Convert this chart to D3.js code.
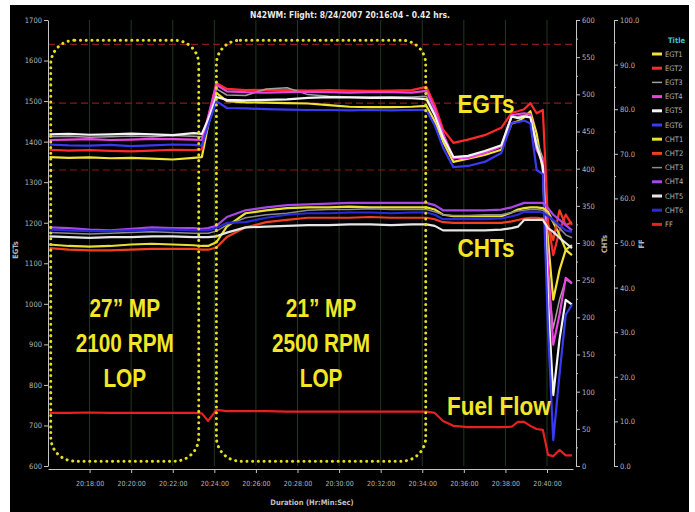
<!DOCTYPE html>
<html>
<head>
<meta charset="utf-8">
<script src="https://cdnjs.cloudflare.com/ajax/libs/d3/7.8.5/d3.min.js"></script>
<style>
  body { margin: 0; background: #fff; }
  svg { display: block; }
</style>
</head>
<body>
<svg id="chart" width="695" height="512"></svg>
<script>
// sample times (Hr:Min:Sec)
var times = ["20:16:04","20:17:00","20:18:00","20:19:00","20:20:00","20:21:00","20:22:00","20:23:00","20:23:24",
  "20:23:42","20:24:06","20:24:36","20:25:30","20:26:30","20:27:30","20:28:30","20:29:30","20:30:30","20:31:30",
  "20:32:30","20:33:30","20:34:12","20:34:36","20:35:00","20:35:30","20:36:12","20:37:00","20:37:48","20:38:18",
  "20:38:36","20:38:54","20:39:12","20:39:30","20:39:48","20:40:03","20:40:18","20:40:36","20:40:54","20:41:12"];

// EGTs (deg F, left axis)
var egt1 = [1362,1360,1361,1359,1360,1358,1356,1360,1362, 1440,1520,1500,1497,1496,1495,1494,1490,1486,1485,1485,1486,1488, 1450,1400,1350,1358,1367,1380, 1445,1450,1460,1475,1420,1330, 1157,1010,1083,1133,1120];
var egt2 = [1380,1378,1379,1377,1376,1378,1380,1379,1381, 1460,1545,1530,1527,1528,1527,1526,1527,1526,1525,1526,1527,1535, 1490,1430,1397,1405,1416,1434, 1471,1475,1480,1495,1470,1478, 1200,1120,1180,1220,1195];
var egt3 = [1412,1413,1411,1412,1414,1412,1415,1413,1412, 1450,1530,1515,1514,1530,1533,1516,1512,1510,1510,1511,1510,1512, 1470,1415,1358,1362,1375,1390, 1460,1462,1465,1462,1400,1360, 1060,940,1010,1060,1050];
var egt4 = [1404,1405,1406,1404,1405,1407,1406,1405,1404, 1460,1540,1524,1522,1521,1522,1523,1522,1521,1522,1522,1521,1525, 1480,1420,1360,1360,1372,1388, 1465,1468,1470,1468,1380,1350, 1096,899,973,1064,1051];
var egt5 = [1418,1419,1417,1418,1420,1418,1416,1421,1419, 1455,1510,1503,1502,1503,1504,1508,1510,1509,1508,1508,1507,1505, 1465,1410,1362,1365,1377,1391, 1462,1458,1462,1460,1390,1340, 1010,775,911,1010,998];
var egt6 = [1393,1391,1390,1392,1389,1391,1393,1392,1390, 1440,1500,1483,1482,1480,1479,1478,1478,1477,1478,1477,1478,1478, 1440,1385,1337,1340,1350,1372, 1446,1448,1452,1445,1330,1320, 935,664,825,973,998];

// CHTs (deg F, first right axis)
var cht1 = [298,296,295,296,298,299,298,297,296, 296,301,322,340,344,347,348,348,349,348,348,348,348, 345,338,336,336,336,336, 341,345,347,348,348,347, 342,328,311,291,297];
var cht2 = [293,291,290,290,291,292,292,292,291, 291,294,308,321,328,331,334,334,334,335,334,334,334, 332,328,327,327,327,327, 329,331,333,334,334,333, 324,304,344,324,328];
var cht3 = [314,313,312,313,314,315,314,313,313, 313,316,324,334,338,340,344,345,345,346,345,345,345, 342,338,337,337,338,338, 341,343,344,345,345,344, 338,328,320,311,307];
var cht4 = [321,320,318,317,319,321,320,320,319, 320,323,335,344,348,351,352,353,354,354,354,354,354, 351,344,344,344,344,345, 348,351,354,354,354,354, 347,338,331,324,317];
var cht5 = [309,308,307,308,308,309,309,308,308, 308,309,314,321,322,323,324,324,325,325,324,325,325, 323,317,317,317,317,318, 320,322,331,331,331,331, 320,315,307,300,293];
var cht6 = [318,317,316,316,317,318,318,317,317, 317,320,327,328,334,338,340,340,341,341,340,341,341, 338,332,332,332,332,333, 336,338,342,342,342,341, 336,331,324,317,315];

// fuel flow (gph, second right axis)
var ff = [11.9,11.9,12.0,11.9,11.9,11.9,11.9,11.9,11.8, 10.1,12.6,12.3,12.3,12.3,12.2,12.2,12.2,12.2,12.2,12.2,12.2,12.2, 11.9,10.1,9.0,8.7,8.7,8.7, 8.8,9.9,9.9,9.0,8.3,8.1, 2.5,2.2,3.6,2.4,2.4];

var seriesNames = ["EGT1","EGT2","EGT3","EGT4","EGT5","EGT6","CHT1","CHT2","CHT3","CHT4","CHT5","CHT6","FF"];
var seriesColors = ["#f2e233","#ff2a2a","#a0a0a0","#e845e0","#f4f4f4","#3a3af0",
                    "#e8e030","#f0401e","#8c8c8c","#a848e8","#e6e6e6","#2a2ad8","#e82020"];

var timeTicks = ["20:18:00","20:20:00","20:22:00","20:24:00","20:26:00","20:28:00","20:30:00",
                 "20:32:00","20:34:00","20:36:00","20:38:00","20:40:00"];
var egtTicks = [600,700,800,900,1000,1100,1200,1300,1400,1500,1600,1700];
var chtTicks = [0,50,100,150,200,250,300,350,400,450,500,550,600];
var ffTicks = [0,10,20,30,40,50,60,70,80,90,100];

// red alarm lines (EGT scale)
var alarmLines = [1640, 1495, 1330];

// test segments (dotted boxes)
var phaseStart = ["20:16:08", "20:24:06"];
var phaseEnd = ["20:23:15", "20:34:10"];
var phaseText = [["27\u201D MP", "2100 RPM", "LOP"], ["21\u201D MP", "2500 RPM", "LOP"]];
var boxTop = 1650, boxBottom = 612;

var parseTime = d3.timeParse("%H:%M:%S");
var fmtTime = d3.timeFormat("%H:%M:%S");

var plotLeft = 48, plotRight = 573, plotTop = 20, plotBottom = 466;

var svg = d3.select("#chart");

var x = d3.scaleTime()
    .domain([parseTime("20:16:00"), parseTime("20:41:15")])
    .range([plotLeft, plotRight]);
var yEgt = d3.scaleLinear().domain([600, 1700]).range([plotBottom, plotTop]);
var yCht = d3.scaleLinear().domain([0, 600]).range([plotBottom, plotTop]);
var yFf = d3.scaleLinear().domain([0, 100]).range([plotBottom, plotTop]);

// black panel
svg.append("rect")
    .attr("x", 10).attr("y", 5)
    .attr("width", 679).attr("height", 507)
    .style("fill", "#000");

// vertical grid
svg.append("g").selectAll("line")
    .data(timeTicks)
    .enter()
    .append("line")
    .attr("x1", function(d) { return x(parseTime(d)); })
    .attr("x2", function(d) { return x(parseTime(d)); })
    .attr("y1", plotTop)
    .attr("y2", plotBottom)
    .attr("stroke", "#22381f")
    .attr("stroke-width", 1);

// alarm lines
svg.append("g").selectAll("line")
    .data(alarmLines)
    .enter()
    .append("line")
    .attr("x1", plotLeft)
    .attr("x2", plotRight)
    .attr("y1", function(d) { return yEgt(d); })
    .attr("y2", function(d) { return yEgt(d); })
    .attr("stroke", "#8a1818")
    .attr("stroke-width", 1.2)
    .attr("stroke-dasharray", "7,4");

// build the series
var allValues = [egt1, egt2, egt3, egt4, egt5, egt6, cht1, cht2, cht3, cht4, cht5, cht6, ff];
var series = allValues.map(function(vals, i) {
    var scale = i < 6 ? yEgt : (i < 12 ? yCht : yFf);
    return {
        name: seriesNames[i],
        color: seriesColors[i],
        scale: scale,
        points: vals.map(function(v, j) { return { t: parseTime(times[j]), v: v }; })
    };
});

var plot = svg.append("g");
series.forEach(function(s) {
    var line = d3.line()
        .x(function(d) { return x(d.t); })
        .y(function(d) { return s.scale(d.v); });
    plot.append("path")
        .datum(s.points)
        .attr("d", line)
        .attr("fill", "none")
        .attr("stroke", s.color)
        .attr("stroke-width", (s.name == "EGT3" || s.name == "CHT3") ? 1.5 : 2.2)
        .attr("stroke-linejoin", "round");
});

// dotted boxes round the two test segments
svg.append("g").selectAll("rect")
    .data(phaseStart)
    .enter()
    .append("rect")
    .attr("x", function(d) { return x(parseTime(d)); })
    .attr("y", yEgt(boxTop))
    .attr("width", function(d, i) { return x(parseTime(phaseEnd[i])) - x(parseTime(d)); })
    .attr("height", yEgt(boxBottom) - yEgt(boxTop))
    .attr("rx", 24)
    .attr("fill", "none")
    .attr("stroke", "#e6e01c")
    .attr("stroke-width", 3)
    .attr("stroke-linecap", "round")
    .attr("stroke-dasharray", "0.1,5.6");

// big yellow labels
var labelFont = "'Liberation Sans', Arial, sans-serif";
phaseStart.forEach(function(d, i) {
    var cx = (x(parseTime(d)) + x(parseTime(phaseEnd[i]))) / 2;
    phaseText[i].forEach(function(txt, k) {
        svg.append("text")
            .attr("transform", "translate(" + cx + "," + (317 + k * 35) + ") scale(0.8,1)")
            .attr("text-anchor", "middle")
            .style("font-family", labelFont)
            .style("font-weight", "bold")
            .style("font-size", "26px")
            .style("fill", "#f2e626")
            .text(txt);
    });
});

var notes = [
    { text: "EGTs", t: "20:37:04", y: 113 },
    { text: "CHTs", t: "20:37:04", y: 257 },
    { text: "Fuel Flow", t: "20:37:41", y: 415 }
];
notes.forEach(function(n) {
    svg.append("text")
        .attr("transform", "translate(" + x(parseTime(n.t)) + "," + n.y + ") scale(0.9,1)")
        .attr("text-anchor", "middle")
        .style("font-family", labelFont)
        .style("font-weight", "bold")
        .style("font-size", "25px")
        .style("fill", "#f2e626")
        .text(n.text);
});

// axes
function styleAxis(g, size) {
    g.selectAll("path, line").attr("stroke", "#c4c4c4");
    g.selectAll("text")
        .attr("fill", "#b4b4b4")
        .style("font-family", "'DejaVu Sans Condensed', 'DejaVu Sans', sans-serif")
        .style("font-size", size + "px");
}

var gLeft = svg.append("g")
    .attr("transform", "translate(" + plotLeft + ",0)")
    .call(d3.axisLeft(yEgt).tickValues(egtTicks).tickFormat(d3.format("d"))
        .tickSize(4).tickSizeOuter(0).tickPadding(2));
styleAxis(gLeft, 7.5);

var gX = svg.append("g")
    .attr("transform", "translate(0," + (plotBottom + 3) + ")")
    .call(d3.axisBottom(x)
        .tickValues(timeTicks.map(parseTime))
        .tickFormat(fmtTime)
        .tickSize(4).tickSizeOuter(0).tickPadding(8));
styleAxis(gX, 7);

var chtX = 576, ffX = 614;
svg.append("g")
    .attr("transform", "translate(" + chtX + ",0)")
    .call(d3.axisRight(yCht).tickValues(d3.range(25, 600, 50)).tickSize(2).tickFormat("").tickSizeOuter(0))
    .call(styleAxis, 7);
var gCht = svg.append("g")
    .attr("transform", "translate(" + chtX + ",0)")
    .call(d3.axisRight(yCht).tickValues(chtTicks).tickSize(4).tickSizeOuter(0).tickPadding(2));
styleAxis(gCht, 7.5);

svg.append("g")
    .attr("transform", "translate(" + ffX + ",0)")
    .call(d3.axisRight(yFf).tickValues(d3.range(5, 100, 10)).tickSize(2).tickFormat("").tickSizeOuter(0))
    .call(styleAxis, 7);
var gFf = svg.append("g")
    .attr("transform", "translate(" + ffX + ",0)")
    .call(d3.axisRight(yFf).tickValues(ffTicks).tickFormat(d3.format(".1f")).tickSize(4).tickSizeOuter(0).tickPadding(2));
styleAxis(gFf, 7.5);

// axis titles
var smallFont = "'DejaVu Sans Condensed', 'DejaVu Sans', sans-serif";
svg.append("text")
    .attr("transform", "translate(18,250) rotate(-90)")
    .attr("text-anchor", "middle")
    .style("font-family", smallFont).style("font-size", "7.5px").style("font-weight", "bold")
    .style("fill", "#b4b4b4")
    .text("EGTs");
svg.append("text")
    .attr("transform", "translate(607,244) rotate(-90)")
    .attr("text-anchor", "middle")
    .style("font-family", smallFont).style("font-size", "7.5px").style("font-weight", "bold")
    .style("fill", "#b4b4b4")
    .text("CHTs");
svg.append("text")
    .attr("transform", "translate(644,244) rotate(-90)")
    .attr("text-anchor", "middle")
    .style("font-family", smallFont).style("font-size", "7.5px").style("font-weight", "bold")
    .style("fill", "#b4b4b4")
    .text("FF");
svg.append("text")
    .attr("x", 312).attr("y", 505)
    .attr("text-anchor", "middle")
    .style("font-family", smallFont).style("font-size", "7.5px").style("font-weight", "bold")
    .style("fill", "#c0c0c0")
    .text("Duration (Hr:Min:Sec)");

// title
svg.append("text")
    .attr("x", 350).attr("y", 18)
    .attr("text-anchor", "middle")
    .style("font-family", smallFont).style("font-size", "8.5px").style("font-weight", "bold")
    .style("fill", "#e8e8e8")
    .text("N42WM:  Flight: 8/24/2007 20:16:04 - 0.42 hrs.");

// legend
svg.append("text")
    .attr("x", 668).attr("y", 43)
    .style("font-family", smallFont).style("font-size", "7.5px").style("font-weight", "bold")
    .style("fill", "#3cc8d8")
    .text("Title");

var legend = svg.selectAll(".legend")
    .data(series)
    .enter()
    .append("g")
    .attr("class", "legend")
    .attr("transform", function(d, i) { return "translate(0," + (54 + i * 14.2) + ")"; });

legend.append("line")
    .attr("x1", 652).attr("x2", 662)
    .attr("y1", 0).attr("y2", 0)
    .attr("stroke", function(d) { return d.color; })
    .attr("stroke-width", function(d) { return (d.name == "EGT3" || d.name == "CHT3") ? 1.5 : 3; });

legend.append("text")
    .attr("x", 665).attr("y", 0)
    .attr("dy", ".35em")
    .style("font-family", smallFont).style("font-size", "7.5px")
    .style("fill", "#b4b4b4")
    .text(function(d) { return d.name; });
</script>
</body>
</html>
